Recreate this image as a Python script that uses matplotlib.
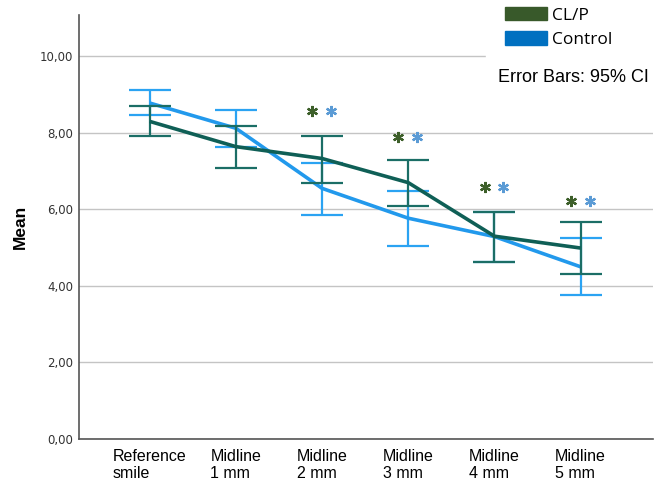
import matplotlib
matplotlib.use("Agg")
import numpy as np
from matplotlib import pyplot as plt
from matplotlib.patches import Patch

categories = ["Reference\nsmile", "Midline\n1 mm", "Midline\n2 mm",
              "Midline\n3 mm", "Midline\n4 mm", "Midline\n5 mm"]

clp_mean = [8.30, 7.64, 7.33, 6.70, 5.30, 4.99]
clp_low = [7.91, 7.07, 6.69, 6.10, 4.62, 4.32]
clp_high = [8.71, 8.19, 7.92, 7.29, 5.94, 5.67]

ctrl_mean = [8.78, 8.12, 6.55, 5.77, 5.29, 4.50]
ctrl_low = [8.47, 7.63, 5.86, 5.04, 4.63, 3.76]
ctrl_high = [9.12, 8.59, 7.20, 6.48, 5.93, 5.25]

# significance asterisks: category index and height
star_idx = [2, 3, 4, 5]
star_y = [8.58, 7.89, 6.59, 6.22]

yticks = [0, 2, 4, 6, 8, 10]

c_clp_line = "#0f5f56"
c_clp_err = "#1b6e66"
c_ctrl_line = "#2299ec"
c_ctrl_err = "#2ba3f2"

fig = plt.figure(figsize=(6.66, 4.88), dpi=100)
ax = fig.add_axes([79 / 666, 49 / 488, 574 / 666, 424 / 488])

x = np.arange(len(categories))

def draw(mean, low, high, lc, ec, z):
    mean = np.array(mean)
    err = [mean - np.array(low), np.array(high) - mean]
    ax.errorbar(x, mean, yerr=err, fmt="none", ecolor=ec, elinewidth=1.6,
                capsize=15, capthick=1.6, zorder=z)
    ax.plot(x, mean, color=lc, lw=2.6, zorder=z + 1, solid_capstyle="butt")

draw(ctrl_mean, ctrl_low, ctrl_high, c_ctrl_line, c_ctrl_err, 3)
draw(clp_mean, clp_low, clp_high, c_clp_line, c_clp_err, 5)

sx = np.array(star_idx)
ax.plot(sx - 0.115, star_y, ls="none", marker=(6, 2, 0), ms=8, mew=1.6,
        color="#3d5f2a", zorder=6)
ax.plot(sx + 0.105, star_y, ls="none", marker=(6, 2, 0), ms=8, mew=1.6,
        color="#5b9bd5", zorder=6)

ax.set_xlim(-0.82, 5.84)
ax.set_ylim(0, 11.08)
ax.set_yticks(yticks)
ax.set_yticklabels([f"{v:.2f}".replace(".", ",") for v in yticks],
                   fontsize=8.5, color="#333333")
ax.set_xticks(x)
ax.set_xticklabels(categories, fontsize=11.5, multialignment="left",
                   family="Liberation Sans")
ax.tick_params(length=0, pad=4)
ax.tick_params(axis="x", pad=7)
ax.set_ylabel("Mean", fontsize=12.5, fontweight="bold",
              family="Liberation Sans")
ax.yaxis.set_label_coords(-51 / 574, 0.5)

ax.grid(axis="y", color="#c4c4c4", lw=1.0)
ax.set_axisbelow(True)
for s in ["top", "right"]:
    ax.spines[s].set_visible(False)
ax.spines["left"].set_color("#555555")
ax.spines["bottom"].set_color("#555555")
ax.spines["left"].set_linewidth(1.2)
ax.spines["bottom"].set_linewidth(1.2)

# white box behind legend, covering the top gridline
fig.patches.append(plt.Rectangle((486 / 666, 1 - 95 / 488), 180 / 666, 95 / 488,
                                 transform=fig.transFigure, color="white",
                                 zorder=10))

handles = [Patch(facecolor="#38592a", edgecolor="#38592a", label="CL/P"),
           Patch(facecolor="#0070c0", edgecolor="#0070c0", label="Control")]
leg = fig.legend(handles=handles, loc="upper left",
                 bbox_to_anchor=(505 / 666, 1 - 7 / 488), frameon=False,
                 borderaxespad=0, borderpad=0,
                 handlelength=2.4, handleheight=0.8,
                 handletextpad=0.3, labelspacing=0.45,
                 prop={"family": "Open Sans", "size": 12.5})
leg.set_zorder(11)

fig.text(498 / 666, 1 - 78 / 488, "Error Bars: 95% CI", fontsize=13,
         family="Liberation Sans", va="center", ha="left", zorder=11)

fig.savefig("out.png", dpi=100)
